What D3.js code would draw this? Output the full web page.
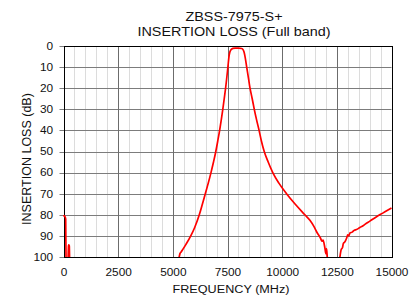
<!DOCTYPE html>
<html>
<head>
<meta charset="utf-8">
<script src="https://cdn.jsdelivr.net/npm/d3@7"></script>
<style>
  body { margin: 0; background: #fff; }
  text { font-family: "Liberation Sans", Arial, sans-serif; fill: #111; }
</style>
</head>
<body>
<svg id="chart"></svg>
<script>
// insertion loss, MHz / dB (values past 100 fall off the bottom)
let freq = [
  0, 40, 70, 100, 115, 150, 200, 230, 245, 265, 285, 350, 1000, 3000, 5000, 5200,
  5290, 5330, 5380, 5450, 5600, 5820, 6000, 6210, 6350, 6485, 6620, 6745, 6860,
  6965, 7055, 7140, 7215, 7285, 7350, 7413, 7518, 7568, 7605, 7660, 7700, 7750,
  7850, 8000, 8150, 8210, 8260, 8310, 8378, 8455, 8530, 8630, 8725, 8830, 8945,
  9050, 9180, 9360, 9570, 9850, 10200, 10600, 11040, 11270, 11450, 11600, 11750,
  11820, 11870, 11950, 12000, 12030, 12070, 12200, 12500, 12600, 12640, 12700,
  12760, 12800, 12870, 12950, 13000, 13050, 13100, 13200, 13300, 13400, 13555,
  13700, 13800, 14012, 14300, 14600, 14800, 15000
];
let loss = [
  80.8, 80.4, 80.9, 82, 100, 104, 103, 94.6, 94.3, 94.8, 103, 107, 110, 112, 108, 103,
  100, 98.3, 97.6, 96.5, 94, 90, 86, 80, 75, 70, 65, 60, 55,
  50, 45, 40, 35, 30, 25, 20, 10, 5, 3, 1.8, 1.4, 1.15,
  1.05, 1.05, 1.2, 1.7, 3, 5.5, 10, 15, 20, 25, 30, 35, 40,
  45, 50, 55, 60, 65, 70, 75, 80, 82.6, 85.5, 88.5, 91,
  92.5, 92, 95.5, 98.5, 96, 101, 106, 108, 103, 100, 96.5,
  95.5, 93.5, 92.8, 91, 89.5, 90, 88.6, 88.2, 87.3, 87, 86,
  85.2, 84.4, 83, 81, 79.2, 78, 76.8
];

let xTicks = [0, 2500, 5000, 7500, 10000, 12500, 15000];
let yTicks = [0, 10, 20, 30, 40, 50, 60, 70, 80, 90, 100];
let titleLines = ["ZBSS-7975-S+", "INSERTION LOSS (Full band)"];

let width = 419;
let height = 297;
let plot = { left: 63.5, right: 391.5, top: 46, bottom: 257 };
let stretch = "scale(1.15,1)";

let svg = d3.select("#chart").attr("width", width).attr("height", height);

let xScale = d3.scaleLinear().domain([0, 15000]).range([plot.left, plot.right]);
let yScale = d3.scaleLinear().domain([0, 100]).range([plot.top, plot.bottom]);

// minor vertical grid every 500 MHz
let xMinor = d3.range(0, 15001, 500).filter((d) => xTicks.indexOf(d) < 0);
svg.append("g")
  .selectAll("line")
  .data(xMinor)
  .enter()
  .append("line")
  .attr("x1", (d) => Math.round(xScale(d)) + 0.5)
  .attr("x2", (d) => Math.round(xScale(d)) + 0.5)
  .attr("y1", plot.top)
  .attr("y2", plot.bottom)
  .attr("stroke", "#dcdcdc");

svg.append("g")
  .selectAll("line")
  .data(yTicks)
  .enter()
  .append("line")
  .attr("x1", plot.left - 4)
  .attr("x2", plot.right)
  .attr("y1", (d) => Math.round(yScale(d)) + 0.5)
  .attr("y2", (d) => Math.round(yScale(d)) + 0.5)
  .attr("stroke", "#7c7c7c");

svg.append("g")
  .selectAll("line")
  .data(xTicks)
  .enter()
  .append("line")
  .attr("x1", (d) => Math.round(xScale(d)) + 0.5)
  .attr("x2", (d) => Math.round(xScale(d)) + 0.5)
  .attr("y1", plot.top)
  .attr("y2", plot.bottom)
  .attr("stroke", "#6c6c6c");

// frame
svg.append("rect")
  .attr("x", Math.round(plot.left) + 0.5)
  .attr("y", plot.top + 0.5)
  .attr("width", Math.round(plot.right) - Math.round(plot.left))
  .attr("height", plot.bottom - plot.top)
  .attr("fill", "none")
  .attr("stroke", "#000");

// axes: labels only, the grid is drawn above
let xAxis = d3.axisBottom(xScale)
  .tickValues(xTicks)
  .tickFormat(d3.format("d"))
  .tickSize(0)
  .tickPadding(12);
let gx = svg.append("g")
  .attr("transform", `translate(0,${plot.bottom})`)
  .call(xAxis);
gx.select(".domain").remove();
gx.selectAll("text")
  .attr("transform", stretch)
  .style("font-size", "10.3px")
  .attr("fill", "#111");

let yAxis = d3.axisLeft(yScale).tickValues(yTicks).tickSize(0).tickPadding(9);
let gy = svg.append("g")
  .attr("transform", `translate(${plot.left},0)`)
  .call(yAxis);
gy.select(".domain").remove();
gy.selectAll("text")
  .attr("transform", stretch)
  .style("font-size", "10.3px")
  .attr("fill", "#111");

// curve
svg.append("clipPath")
  .attr("id", "plotClip")
  .append("rect")
  .attr("x", plot.left - 2)
  .attr("y", plot.top - 2)
  .attr("width", plot.right - plot.left + 4)
  .attr("height", plot.bottom - plot.top + 2);

let points = freq.map((f, i) => [f, loss[i]]);
let line = d3.line()
  .x((d) => xScale(d[0]))
  .y((d) => yScale(d[1]))
  .curve(d3.curveMonotoneX);

svg.append("path")
  .datum(points)
  .attr("clip-path", "url(#plotClip)")
  .attr("d", line)
  .attr("fill", "none")
  .attr("stroke", "#ff0000")
  .attr("stroke-width", 1.7)
  .attr("stroke-linejoin", "round");

// titles
svg.selectAll(".title")
  .data(titleLines)
  .enter()
  .append("text")
  .attr("class", "title")
  .attr("transform", (d, i) => `translate(234,${20.7 + i * 15.5}) ${stretch}`)
  .attr("text-anchor", "middle")
  .style("font-size", "12.5px")
  .text((d) => d);

svg.append("text")
  .attr("transform", `translate(231,292.5) ${stretch}`)
  .attr("text-anchor", "middle")
  .style("font-size", "11px")
  .text("FREQUENCY (MHz)");

svg.append("text")
  .attr("transform", "translate(30.5,159) rotate(-90)")
  .attr("text-anchor", "middle")
  .style("font-size", "12.5px")
  .text("INSERTION LOSS (dB)");
</script>
</body>
</html>
